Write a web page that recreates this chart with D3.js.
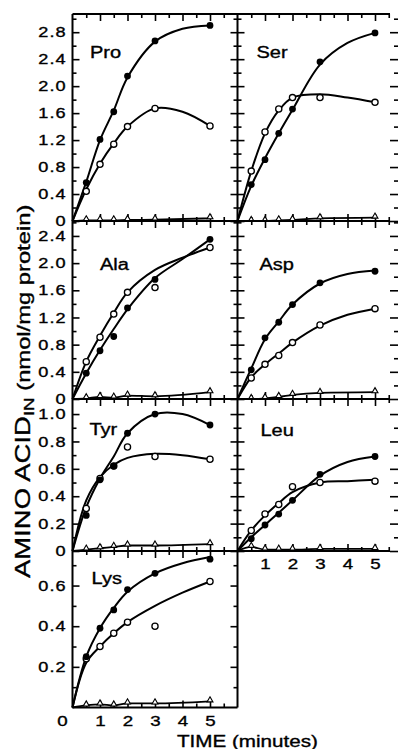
<!DOCTYPE html>
<html><head><meta charset="utf-8">
<script src="https://cdn.jsdelivr.net/npm/d3@7"></script>
<style>body{margin:0;background:#fff}svg{display:block}</style>
</head><body>
<script>
// ---------- DATA ----------
const times = [0.5, 1, 1.5, 2, 3, 5];            // minutes
const fitTimes = [0, 0.5, 1, 1.5, 2, 3, 4, 5];   // knots of the drawn fitted curves
const aminoAcids = ["Pro", "Ser", "Ala", "Asp", "Tyr", "Leu", "Lys"];

// measured points (nmol/mg protein): filled circles, open circles, open triangles
const proFilled = [0.57, 1.21, 1.62, 2.15, 2.67, 2.90];
const proOpen   = [0.44, 0.84, 1.14, 1.40, 1.67, 1.41];
const proTri    = [0.01, 0.01, 0.01, 0.015, 0.02, 0.04];
const serFilled = [0.54, 0.91, 1.30, 1.66, 2.36, 2.79];
const serOpen   = [0.74, 1.32, 1.66, 1.83, 1.83, 1.76];
const serTri    = [0.0, 0.0, 0.01, 0.015, 0.04, 0.05];
const alaFilled = [0.38, 0.71, 0.92, 1.34, 1.76, 2.35];
const alaOpen   = [0.55, 0.91, 1.25, 1.57, 1.64, 2.23];
const alaTri    = [0.01, 0.03, 0.02, 0.05, 0.04, 0.10];
const aspFilled = [0.43, 0.90, 1.13, 1.39, 1.71, 1.88];
const aspOpen   = [0.31, 0.51, 0.64, 0.83, 1.09, 1.33];
const aspTri    = [0.0, 0.01, 0.03, 0.06, 0.09, 0.10];
const tyrFilled = [0.26, 0.52, 0.62, 0.86, 1.00, 0.92];
const tyrOpen   = [0.31, 0.53, 0.62, 0.76, 0.69, 0.67];
const tyrTri    = [0.01, 0.02, 0.03, 0.04, 0.04, 0.05];
const leuFilled = [0.09, 0.19, 0.27, 0.37, 0.56, 0.69];
const leuOpen   = [0.15, 0.27, 0.34, 0.47, 0.50, 0.51];
const leuTri    = [0.03, 0.01, 0.01, 0.01, 0.015, 0.015];
const lysFilled = [0.25, 0.39, 0.48, 0.58, 0.66, 0.73];
const lysOpen   = [0.24, 0.30, 0.365, 0.42, 0.40, 0.62];
const lysTri    = [0.01, 0.015, 0.01, 0.02, 0.02, 0.03];

// fitted curves (values at fitTimes)
const proFilledFit = [0, 0.58, 1.20, 1.64, 2.13, 2.66, 2.85, 2.90];
const proOpenFit   = [0, 0.47, 0.85, 1.15, 1.40, 1.67, 1.62, 1.41];
const serFilledFit = [0, 0.52, 0.93, 1.30, 1.65, 2.32, 2.64, 2.79];
const serOpenFit   = [0, 0.74, 1.30, 1.64, 1.83, 1.88, 1.83, 1.76];
const alaFilledFit = [0, 0.38, 0.72, 1.03, 1.32, 1.78, 2.06, 2.35];
const alaOpenFit   = [0, 0.55, 0.93, 1.27, 1.57, 1.90, 2.08, 2.23];
const aspFilledFit = [0, 0.45, 0.88, 1.14, 1.39, 1.70, 1.84, 1.89];
const aspOpenFit   = [0, 0.32, 0.51, 0.67, 0.83, 1.08, 1.24, 1.33];
const tyrFilledFit = [0, 0.32, 0.53, 0.69, 0.86, 1.00, 1.00, 0.92];
const tyrOpenFit   = [0, 0.37, 0.54, 0.63, 0.68, 0.71, 0.70, 0.67];
const leuFilledFit = [0, 0.10, 0.19, 0.28, 0.37, 0.55, 0.65, 0.69];
const leuOpenFit   = [0, 0.15, 0.26, 0.35, 0.43, 0.50, 0.51, 0.52];
const lysFilledFit = [0, 0.25, 0.39, 0.49, 0.57, 0.66, 0.71, 0.74];
const lysOpenFit   = [0, 0.22, 0.30, 0.365, 0.42, 0.50, 0.565, 0.62];

// axis extents and ticks per row
const rowMax = [3.07, 2.62, 1.11, 0.77];
const row1Major = [0, 0.4, 0.8, 1.2, 1.6, 2.0, 2.4, 2.8];
const row1Minor = [0.2, 0.6, 1.0, 1.4, 1.8, 2.2, 2.6, 3.0];
const row2Major = [0, 0.4, 0.8, 1.2, 1.6, 2.0, 2.4];
const row2Minor = [0.2, 0.6, 1.0, 1.4, 1.8, 2.2, 2.6];
const row3Major = [0, 0.2, 0.4, 0.6, 0.8, 1.0];
const row3Minor = [0.1, 0.3, 0.5, 0.7, 0.9];
const row4Major = [0.2, 0.4, 0.6];
const row4Minor = [0.1, 0.3, 0.5, 0.7];
const row4Labels = [0.2, 0.4, 0.6];
const xMax = 6;
const xMajor = [1, 2, 3, 4, 5];
const xMinor = [0.5, 1.5, 2.5, 3.5, 4.5, 5.5];
const xLabels = [1, 2, 3, 4, 5];

// ---------- LAYOUT ----------
const W = 399, H = 749;
const rowY = [14, 221, 399, 551, 707.5];
const colX = [72.5, 237.5];
const colW = 165;
const rightEnd = 390;
const SX = 1.25;               // wide type face
const FONT = "'Liberation Sans', Arial, Helvetica, sans-serif";
const TXT_STROKE = 0.35;       // slightly heavier print
const titleOff = [[17.5, 44.3], [19, 44.3], [27.5, 49], [22, 49], [17, 36], [23, 37], [19, 33]];

const major = [row1Major, row2Major, row3Major, row4Major];
const minor = [row1Minor, row2Minor, row3Minor, row4Minor];
const labelsY = [row1Major, row2Major, row3Major, row4Labels];

const panels = [
  {f: proFilled, o: proOpen, t: proTri, ff: proFilledFit, of: proOpenFit, row: 0, col: 0},
  {f: serFilled, o: serOpen, t: serTri, ff: serFilledFit, of: serOpenFit, row: 0, col: 1},
  {f: alaFilled, o: alaOpen, t: alaTri, ff: alaFilledFit, of: alaOpenFit, row: 1, col: 0},
  {f: aspFilled, o: aspOpen, t: aspTri, ff: aspFilledFit, of: aspOpenFit, row: 1, col: 1},
  {f: tyrFilled, o: tyrOpen, t: tyrTri, ff: tyrFilledFit, of: tyrOpenFit, row: 2, col: 0},
  {f: leuFilled, o: leuOpen, t: leuTri, ff: leuFilledFit, of: leuOpenFit, row: 2, col: 1},
  {f: lysFilled, o: lysOpen, t: lysTri, ff: lysFilledFit, of: lysOpenFit, row: 3, col: 0}
];
panels.forEach((p, i) => { p.name = aminoAcids[i]; p.title = titleOff[i]; });

const svg = d3.select("body").append("svg").attr("width", W).attr("height", H)
  .attr("font-family", FONT);

const fmt = d => d === 0 ? "0" : d3.format(".1f")(d);

function tickAxis(axisFn, scale, vals, size, transform) {
  const g = svg.append("g").attr("transform", transform)
    .call(axisFn(scale).tickValues(vals).tickSize(size).tickFormat(""));
  g.select(".domain").remove();
  g.selectAll("line").attr("stroke", "#000").attr("stroke-width", 1.6);
  return g;
}
function heavy(sel) { return sel.attr("fill", "#000").attr("stroke", "#000").attr("stroke-width", TXT_STROKE); }

panels.forEach(p => {
  const x0 = colX[p.col], yb = rowY[p.row + 1], yt = rowY[p.row];
  const x = d3.scaleLinear().domain([0, xMax]).range([x0, x0 + colW]);
  const y = d3.scaleLinear().domain([0, rowMax[p.row]]).range([yb, yt]);

  // inward ticks, all four sides
  tickAxis(d3.axisRight, y, major[p.row], 7, `translate(${x0},0)`);
  tickAxis(d3.axisRight, y, minor[p.row], 4, `translate(${x0},0)`);
  const xr = p.col === 0 ? x0 + colW : 398;
  const ml = p.col === 0 ? 7 : 8;
  tickAxis(d3.axisLeft, y, major[p.row], ml, `translate(${xr},0)`);
  tickAxis(d3.axisLeft, y, minor[p.row], 4, `translate(${xr},0)`);
  tickAxis(d3.axisBottom, x, xMajor, 7, `translate(0,${yt})`);
  tickAxis(d3.axisBottom, x, xMinor, 4, `translate(0,${yt})`);
  tickAxis(d3.axisTop, x, xMajor, 7, `translate(0,${yb})`);
  tickAxis(d3.axisTop, x, xMinor, 4, `translate(0,${yb})`);

  // y labels on the left column
  if (p.col === 0) {
    const g = svg.append("g").attr("transform", `translate(${x0},0)`)
      .call(d3.axisLeft(y).tickValues(labelsY[p.row]).tickSize(0).tickFormat(fmt));
    g.select(".domain").remove();
    g.attr("font-family", FONT).attr("font-size", 14.5);
    heavy(g.selectAll("text").attr("x", -6 / SX).attr("transform", `scale(${SX},1)`)
      .attr("letter-spacing", 0.8));
  }
  // x labels on the lowest panel of each column
  if ((p.col === 0 && p.row === 3) || (p.col === 1 && p.row === 2)) {
    const g = svg.append("g").attr("transform", `translate(0,${yb})`)
      .call(d3.axisBottom(x).tickValues(xLabels).tickSize(0).tickFormat(d3.format("d")));
    g.select(".domain").remove();
    g.attr("font-family", FONT).attr("font-size", 15);
    heavy(g.selectAll("text").attr("y", 18.5).attr("dy", null)
      .attr("transform", `scale(${SX},1)`));
    if (p.col === 0) {
      heavy(svg.append("text").attr("transform", `translate(${x(0) - 10},${yb + 18.5}) scale(${SX},1)`)
        .attr("text-anchor", "middle").attr("font-size", 15).text("0"));
    }
  }

  // curves
  const line = d3.line().x(d => x(d[0])).y(d => y(d[1])).curve(d3.curveCatmullRom.alpha(0.5));
  const g = svg.append("g");
  g.append("path").attr("d", line(fitTimes.map((t, i) => [t, p.ff[i]])))
    .attr("fill", "none").attr("stroke", "#000").attr("stroke-width", 2);
  g.append("path").attr("d", line(fitTimes.map((t, i) => [t, p.of[i]])))
    .attr("fill", "none").attr("stroke", "#000").attr("stroke-width", 2);
  const triLine = d3.line().x(d => x(d[0])).y(d => y(d[1])).curve(d3.curveMonotoneX);
  g.append("path").attr("d", triLine([[0, 0]].concat(times.map((t, i) => [t, p.t[i]]))))
    .attr("fill", "none").attr("stroke", "#000").attr("stroke-width", 1.8);

  // markers
  g.selectAll(".tri").data(times.map((t, i) => [t, p.t[i]])).join("path")
    .attr("d", d3.symbol(d3.symbolTriangle, 15))
    .attr("transform", d => `translate(${x(d[0])},${y(d[1]) - 1.2})`)
    .attr("fill", "#fff").attr("stroke", "#000").attr("stroke-width", 1.1);
  g.selectAll(".open").data(times.map((t, i) => [t, p.o[i]])).join("circle")
    .attr("cx", d => x(d[0])).attr("cy", d => y(d[1])).attr("r", 3.1)
    .attr("fill", "#fff").attr("stroke", "#000").attr("stroke-width", 1.3);
  g.selectAll(".filled").data(times.map((t, i) => [t, p.f[i]])).join("circle")
    .attr("cx", d => x(d[0])).attr("cy", d => y(d[1])).attr("r", 3.4).attr("fill", "#000");

  // panel title
  heavy(svg.append("text").attr("transform", `translate(${x0 + p.title[0]},${yt + p.title[1]}) scale(${SX},1)`)
    .attr("font-size", 16).text(p.name));
});

// frame lines
const frame = svg.append("g").attr("stroke", "#000").attr("stroke-width", 2).attr("fill", "none");
frame.append("line").attr("x1", colX[0]).attr("x2", colX[0]).attr("y1", rowY[0]).attr("y2", rowY[4]);
frame.append("line").attr("x1", colX[1]).attr("x2", colX[1]).attr("y1", rowY[0]).attr("y2", rowY[4]);
rowY.slice(0, 4).forEach(yy => frame.append("line").attr("x1", colX[0]).attr("x2", rightEnd).attr("y1", yy).attr("y2", yy));
frame.append("line").attr("x1", colX[0]).attr("x2", colX[1]).attr("y1", rowY[4]).attr("y2", rowY[4]);

// axis titles
const yt = heavy(svg.append("text").attr("transform", `translate(30,578) rotate(-90) scale(${SX},1)`));
yt.append("tspan").attr("font-size", 22).text("AMINO ACID");
yt.append("tspan").attr("font-size", 15).attr("dy", 4).text("IN");
yt.append("tspan").attr("font-size", 19).attr("dy", -4).text("\u00a0(nmol/mg protein)");

heavy(svg.append("text").attr("transform", `translate(177,746.5) scale(${SX},1)`)
  .attr("font-size", 16.5).text("TIME (minutes)"));
</script>
</body></html>
